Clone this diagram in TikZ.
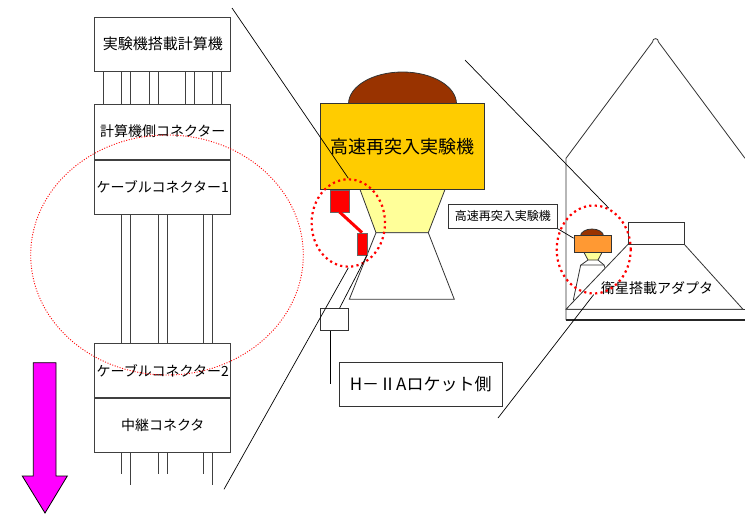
\documentclass[tikz,border=0pt]{standalone}
\usepackage{fontspec}
\setmainfont{Noto Sans CJK JP}
\usetikzlibrary{positioning, shapes.geometric}
\definecolor{gold}{HTML}{FFCC00}
\definecolor{capsule}{HTML}{993300}
\definecolor{paleyel}{HTML}{FFFF99}
\definecolor{orng}{HTML}{FF9933}
\definecolor{arrowmag}{HTML}{FF00FF}
\tikzset{
    box/.style={draw=black!75, line width=0.9pt, fill=white, minimum width=136pt, minimum height=54pt, inner sep=0pt, font=\fontsize{14}{16}\selectfont}, % stack boxes
    wire/.style={draw=black!75, line width=0.9pt}, % cable wires
    part/.style={draw=black!80, line width=0.8pt}, % vehicle parts
    leader/.style={black, line width=0.7pt}, % leader and zoom lines
    zoomring/.style={ellipse, draw=red, line width=2.2pt, dash pattern=on 2.2pt off 3.3pt, inner sep=0pt},
    zoomwide/.style={ellipse, draw=red, line width=0.9pt, dash pattern=on 1pt off 1.6pt, inner sep=0pt},
}

\begin{document}
\begin{tikzpicture}[x=1pt, y=-1pt, node distance=32pt]
\useasboundingbox (0,0) rectangle (745,514);

% computer / connector stack
\node[box, font=\fontsize{15}{17}\selectfont] (pc) at (162.75,44.2) {実験機搭載計算機};
\node[box, below=32pt of pc, minimum height=55pt] (pcconn) {計算機側コネクター};
\node[box, below=0pt of pcconn] (cab1) {ケーブルコネクター1};
\node[box, below=128.5pt of cab1] (cab2) {ケーブルコネクター2};
\node[box, below=0pt of cab2] (relay) {中継コネクタ};

% wires
\foreach \x in {103.3,121.7,130.7,149,158,185.3,194.3,212.3,221.3}
    \draw[wire] (\x,0 |- pc.south) -- (\x,0 |- pcconn.north);
\foreach \x in {121.7,130.7,158,167,203.3,212.3}
    \draw[wire] (\x,0 |- cab1.south) -- (\x,0 |- cab2.north);
\foreach \x/\l in {121.7/21, 130.7/32, 158/21, 167/21, 203.3/21, 212.3/32}
    \draw[wire] (\x,0 |- relay.south) -- ++(0,\l);

\node[zoomwide, minimum width=272.6pt, minimum height=240pt] (zooml) at (167,255) {};

% direction arrow
\draw[black, line width=0.8pt, fill=arrowmag] (33.3,362.7) -- (56,362.7) -- (56,476)
    -- (67.3,476) -- (45,513) -- (22.3,476) -- (33.3,476) -- cycle;

% re-entry vehicle
\draw[part, fill=capsule] (402.5,104) ellipse [x radius=54, y radius=32];
\draw[part, fill=paleyel] (360,189.5) -- (445,189.5) -- (428.3,232.7) -- (376,232.7) -- cycle;
\draw[part, fill=white] (376,232.7) -- (428.3,232.7) -- (454.3,299.3) -- (349.3,299.3) -- cycle;
\node[part, fill=gold, minimum width=163.3pt, minimum height=86.2pt, inner sep=0pt,
    font=\fontsize{18}{20}\selectfont] (body) at (402.3,146.4) {高速再突入実験機};

% connectors on the vehicle
\node[draw=black!60, fill=red, minimum width=19pt, minimum height=21.7pt, inner sep=0pt] (rc1) at (339.5,200.9) {};
\node[draw=black!60, fill=red, minimum width=9.4pt, minimum height=22.3pt, inner sep=0pt] (rc2) at (362,243.9) {};
\draw[red, line width=3pt] (rc1.south) -- (rc2.north);
\node[zoomring, minimum width=73.4pt, minimum height=87.4pt] (zoomc) at (348.3,223) {};

\node[part, fill=white, minimum width=27.6pt, minimum height=22pt, inner sep=0pt] (jbox) at (334.5,319.7) {};
\coordinate (jend) at (330,384);
\draw[leader] ([xshift=-4.5pt]jbox.south) -- (jend);
\draw[leader] ([xshift=5pt]jbox.north) -- (rc2.south east);

\node[part, minimum width=163.3pt, minimum height=43.3pt, inner sep=0pt,
    font=\fontsize{17}{20}\selectfont] (rktlbl) at (420.7,384.4) {H－ⅡAロケット側};

% zoom lines to the stack
\coordinate (ztop) at (232,8);
\coordinate (zbot) at (224,489.3);
\draw[leader] (ztop) -- (zoomc.north);
\draw[leader] (zbot) -- (zoomc.south);

% fairing
\draw[part] (566,320) -- (566,158.3) -- (652.5,42) .. controls (652.5,37.5) and (658.5,37.5) .. (658.5,42) -- (745,158.3);
\draw[part] (566,309.3) -- (745,309.3);
\draw[black!85, line width=1.6pt] (566,320) -- (745,320);

% small vehicle inside
\draw[part, fill=white] (580.7,265) -- (604,265) -- (616,300) -- (573.3,300) -- cycle;
\draw[part, fill=paleyel] (584,252.5) -- (602,252.5) -- (598,260) -- (588,260) -- cycle;
\draw[part] (588,260) -- (581,265) (598,260) -- (604,265);
\draw[part, fill=capsule] (592,236) ellipse [x radius=11.5, y radius=7];
\node[part, fill=orng, minimum width=37pt, minimum height=17.3pt, inner sep=0pt] (vsm) at (592.5,243.7) {};

% adapter
\draw[part, fill=white] (566,309.3) -- (628.3,244) -- (684,244) -- (743,309.3) -- cycle;
\node[part, fill=white, minimum width=55.7pt, minimum height=21.3pt, inner sep=0pt] (adtop) at (656.2,233.3) {};
\node[font=\fontsize{14}{16}\selectfont, inner sep=0pt] (adptxt) at (657,288) {衛星搭載アダプタ};

\node[part, fill=white, minimum width=109pt, minimum height=24.3pt, inner sep=0pt,
    font=\fontsize{12}{14}\selectfont] (vlbl) at (502.8,216.2) {高速再突入実験機};
\draw[leader] (vlbl.south east) -- ([yshift=5.5pt]vsm.west);

\node[zoomring, minimum width=74pt, minimum height=88pt] (zoomr) at (593.7,249.5) {};
\coordinate (rtop) at (465,60);
\coordinate (rbot) at (498,418);
\draw[leader] (rtop) -- (zoomr.70);
\draw[leader] (rbot) -- (zoomr.south);

\end{tikzpicture}
\end{document}
